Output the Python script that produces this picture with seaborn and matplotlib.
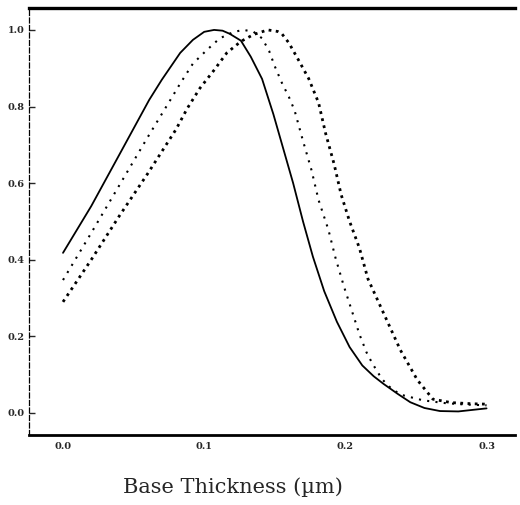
import pandas as pd
import matplotlib
matplotlib.use("Agg")
import matplotlib.pyplot as plt
import seaborn as sns

# values
solid_x = [0.000, 0.020, 0.040, 0.061, 0.070, 0.083, 0.092, 0.100, 0.107, 0.113,
           0.118, 0.126, 0.133, 0.141, 0.149, 0.156, 0.163, 0.170, 0.177, 0.185,
           0.194, 0.203, 0.212, 0.220, 0.227, 0.237, 0.246, 0.256, 0.267, 0.280,
           0.290, 0.300]
solid_y = [0.418, 0.54, 0.675, 0.817, 0.87, 0.94, 0.974, 0.995, 1.00, 0.998,
           0.99, 0.972, 0.93, 0.872, 0.78, 0.69, 0.60, 0.50, 0.408, 0.318,
           0.238, 0.172, 0.124, 0.096, 0.076, 0.05, 0.028, 0.013, 0.005, 0.004,
           0.008, 0.012]

dot_x = [0.000, 0.020, 0.040, 0.060, 0.076, 0.083, 0.092, 0.102, 0.111, 0.121,
         0.128, 0.135, 0.141, 0.146, 0.150, 0.155, 0.160, 0.164, 0.170, 0.176,
         0.181, 0.188, 0.193, 0.199, 0.205, 0.210, 0.215, 0.219, 0.226, 0.233,
         0.240, 0.255, 0.270, 0.285, 0.300]
dot_y = [0.347, 0.47, 0.595, 0.72, 0.817, 0.86, 0.912, 0.948, 0.978, 0.995,
         1.00, 0.995, 0.978, 0.945, 0.905, 0.862, 0.825, 0.79, 0.71, 0.634,
         0.556, 0.478, 0.405, 0.33, 0.262, 0.205, 0.158, 0.13, 0.088, 0.062,
         0.047, 0.033, 0.026, 0.022, 0.020]

bold_x = [0.000, 0.020, 0.040, 0.060, 0.080, 0.088, 0.097, 0.107, 0.116, 0.126,
          0.135, 0.145, 0.152, 0.155, 0.160, 0.167, 0.174, 0.181, 0.186, 0.192,
          0.197, 0.203, 0.210, 0.216, 0.226, 0.239, 0.251, 0.262, 0.275, 0.290,
          0.300]
bold_y = [0.29, 0.40, 0.515, 0.625, 0.74, 0.795, 0.848, 0.895, 0.94, 0.97,
          0.988, 1.00, 0.996, 0.99, 0.966, 0.92, 0.873, 0.81, 0.73, 0.65,
          0.57, 0.50, 0.43, 0.35, 0.269, 0.164, 0.086, 0.036, 0.027, 0.024,
          0.023]

x_ticks = [0.0, 0.1, 0.2, 0.3]
y_ticks = [0.0, 0.2, 0.4, 0.6, 0.8, 1.0]

sns.set_style("white")
plt.rcParams['font.family'] = ['DejaVu Serif']

fig = plt.figure(figsize=(5.2, 5.05), dpi=100)
ax = fig.add_axes([0.056, 0.139, 0.934, 0.845])

sns.lineplot(x=solid_x, y=solid_y, ax=ax, color="black", lw=1.3, sort=False)
sns.lineplot(x=dot_x, y=dot_y, ax=ax, color="black", lw=1.5, sort=False,
             linestyle=(0, (1, 3)))
sns.lineplot(x=bold_x, y=bold_y, ax=ax, color="black", lw=2.0, sort=False,
             linestyle=(0, (1, 1.6)))

ax.set_xlim(-0.024, 0.32)
ax.set_ylim(-0.057, 1.057)
ax.set_xticks(x_ticks)
ax.set_yticks(y_ticks)
ax.set_xticklabels([f"{v:.1f}" for v in x_ticks], fontsize=7, fontweight="bold")
ax.set_yticklabels([f"{v:.1f}" for v in y_ticks], fontsize=7, fontweight="bold")
ax.tick_params(axis="y", direction="in", length=4, width=1, pad=3, left=True)
ax.tick_params(axis="x", length=0, pad=5)

ax.spines["right"].set_visible(False)
ax.spines["top"].set_linewidth(2.4)
ax.spines["bottom"].set_linewidth(2.0)
ax.spines["left"].set_linewidth(0.9)
ax.spines["left"].set_linestyle((0, (4, 2)))
for s in ["top", "bottom", "left"]:
    ax.spines[s].set_color("black")

ax.set_xlabel("Base Thickness (\u00b5m)", fontsize=15)
ax.xaxis.set_label_coords(0.42, -0.10)
ax.set_ylabel("")

fig.savefig("out.png", dpi=100)
